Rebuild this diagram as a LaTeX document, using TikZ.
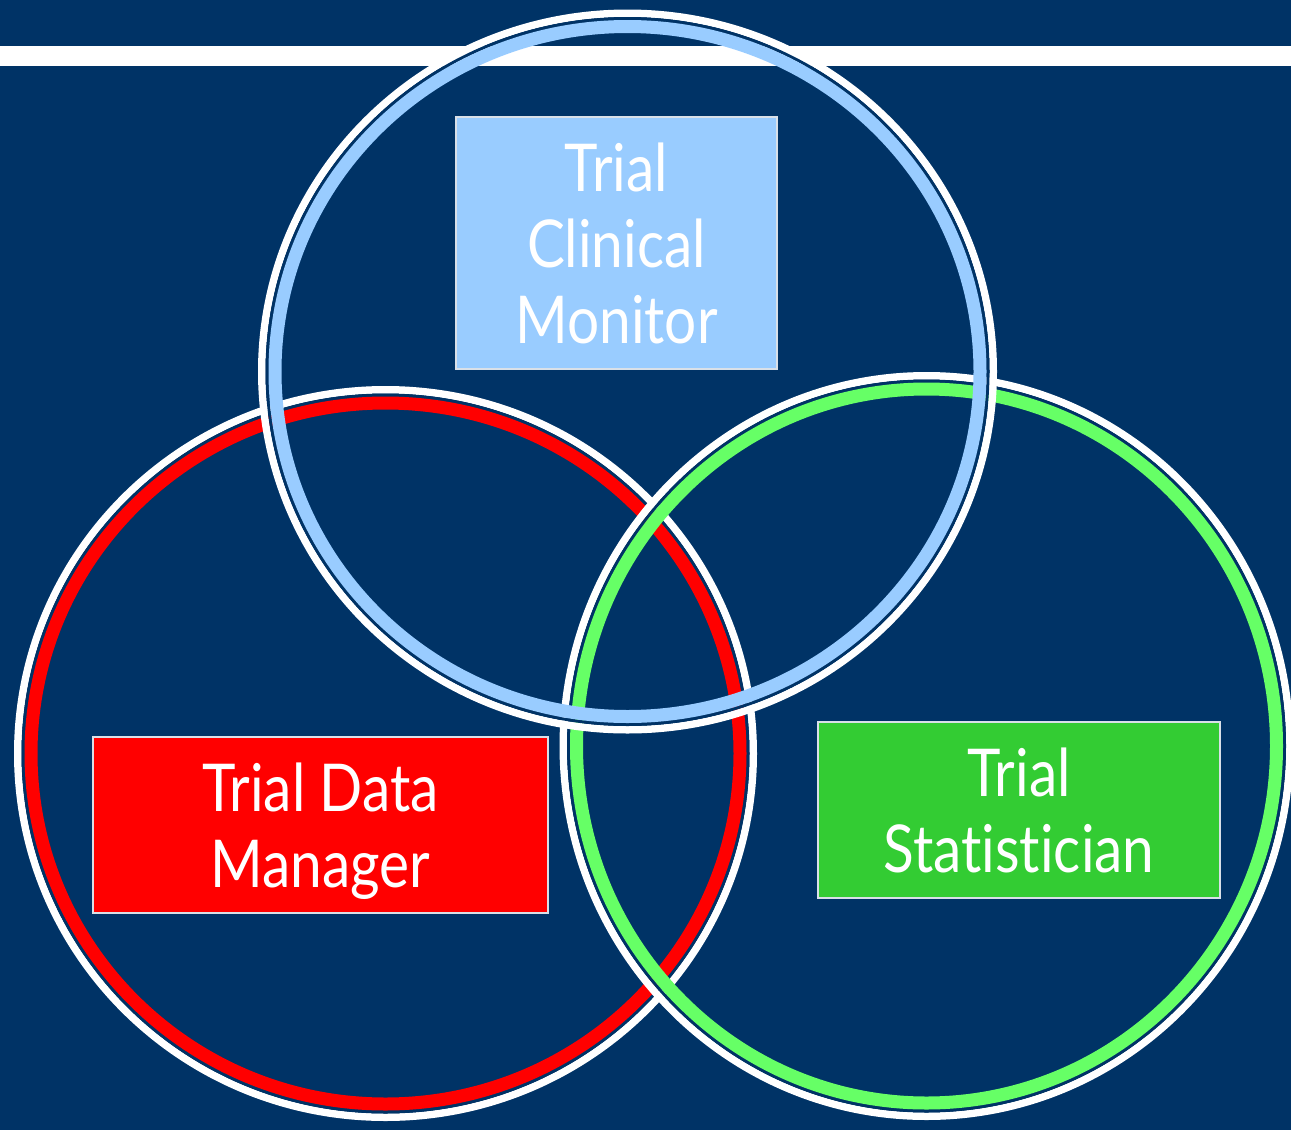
\documentclass[tikz,border=0pt]{standalone}
\usepackage{fontspec}
\setmainfont{Lato}[FakeStretch=0.86, Ligatures=NoCommon]
\definecolor{bg}{HTML}{003366}
\definecolor{ringblue}{HTML}{99CCFF}
\definecolor{ringred}{HTML}{FF0000}
\definecolor{ringgreen}{HTML}{66FF66}
\definecolor{boxgreen}{HTML}{33CC33}
\begin{document}
\begin{tikzpicture}[x=1pt,y=-1pt,
  boxstyle/.style={draw=white!85!bg, line width=1.5pt, inner sep=0pt, text=white,
    align=center, font=\fontsize{66}{76}\selectfont},
  whitering/.style={draw=white, line width=7.5pt},
  gapring/.style={draw=bg, line width=3pt},
  colring/.style={line width=13pt}]
\fill[bg] (0,0) rectangle (1291,1130);
\useasboundingbox (0,0) rectangle (1291,1130);
\fill[white] (0,46) rectangle (1291,66);
% centres
\coordinate (cr) at (385.5,753.5);
\coordinate (cg) at (926.5,746);
\coordinate (cb) at (627.5,371.5);
% red circle
\draw[whitering] (cr) ellipse (367.75 and 363.75);
\draw[gapring] (cr) ellipse (362.5 and 358.5);
\draw[colring, draw=ringred] (cr) ellipse (354.5 and 350.5);
% green circle
\draw[whitering] (cg) ellipse (363.25 and 370.25);
\draw[gapring] (cg) ellipse (358 and 365);
\draw[colring, draw=ringgreen] (cg) ellipse (350 and 357);
% blue circle
\draw[whitering] (cb) ellipse (365.75 and 358.25);
\draw[gapring] (cb) ellipse (360.5 and 353);
\draw[colring, draw=ringblue] (cb) ellipse (352.5 and 345);
% boxes
\node[boxstyle, fill=ringblue, minimum width=321pt, minimum height=252pt] (mon) at (616.5,243)
  {Trial\\Clinical\\Monitor};
\node[boxstyle, fill=ringred, minimum width=455pt, minimum height=176pt] (dm) at (320.5,825)
  {Trial Data\\\raisebox{0pt}[\height][0pt]{Manager}};
\node[boxstyle, fill=boxgreen, minimum width=402pt, minimum height=176pt] (st) at (1019,810)
  {Trial\\Statistician};
\end{tikzpicture}
\end{document}
